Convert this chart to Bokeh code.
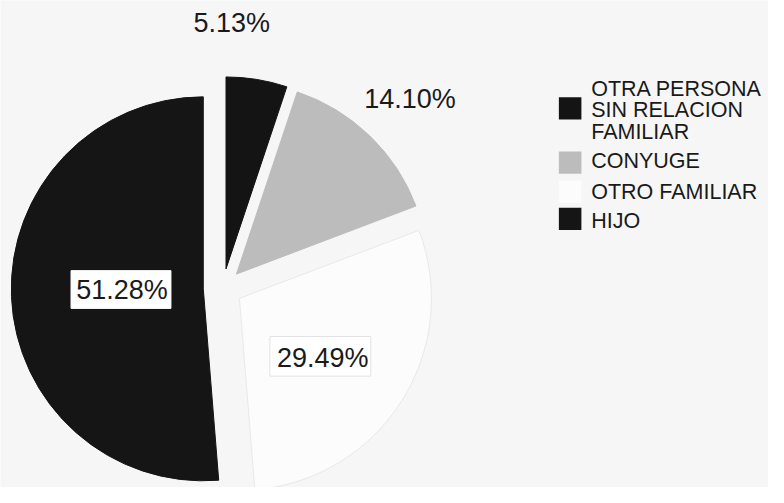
import numpy as np
from bokeh.plotting import figure
from bokeh.models import Range1d, ColumnDataSource
from bokeh.embed import file_html
from bokeh.resources import INLINE
from bokeh.core.properties import value

# ---- data ----
categories = ["OTRA PERSONA SIN RELACION FAMILIAR", "CONYUGE", "OTRO FAMILIAR", "HIJO"]
legend_lines = [["OTRA PERSONA", "SIN RELACION", "FAMILIAR"], ["CONYUGE"], ["OTRO FAMILIAR"], ["HIJO"]]
percents = [5.13, 14.10, 29.49, 51.28]

# ---- style / layout ----
colors = ["#141414", "#bcbcbc", "#fcfcfc", "#151515"]
line_colors = ["#141414", "#bcbcbc", "#e8e8e8", "#151515"]
BG = "#f6f6f6"
FONT = value("Liberation Sans")
W, H = 768, 487
R = 196
EXPLODE = 20
BASE = (227, 297)  # centre of pie in reference pixel coords


def Y(sy):
    return 503 - sy


p = figure(width=W, height=H, x_range=Range1d(0, 784), y_range=Range1d(0, 503),
           output_backend="svg", toolbar_location=None, x_axis_type=None, y_axis_type=None,
           min_border=0, background_fill_color=BG, border_fill_color=BG, outline_line_color=None)
p.grid.visible = False

vals = np.array(percents)
frac = vals / vals.sum()
cum = np.concatenate([[0], np.cumsum(frac)])
th0 = 2 * np.pi * cum[:-1]
th1 = 2 * np.pi * cum[1:]
mid = (th0 + th1) / 2
cx = BASE[0] + EXPLODE * np.sin(mid)
cy = Y(BASE[1]) + EXPLODE * np.cos(mid)

src = ColumnDataSource(dict(x=cx, y=cy, s=np.pi / 2 - th0, e=np.pi / 2 - th1,
                            fc=colors, lc=line_colors))
p.wedge(x="x", y="y", radius=R, start_angle="s", end_angle="e", direction="clock",
        fill_color="fc", line_color="lc", line_width=1, source=src)

# percentage labels
labels = ["%.2f%%" % v for v in percents]
label_pos = [(236, 23), (418, 102), (329, 369), (124, 299.5)]
box = [None, None, (275, 347, 378, 388), (72, 279, 174, 318)]
box_line = [None, None, "#e2e2e2", "#ffffff"]
for lab, (lx, ly), b, bl in zip(labels, label_pos, box, box_line):
    if b is not None:
        x0, y0, x1, y1 = b
        p.quad(left=[x0], right=[x1], top=[Y(y0)], bottom=[Y(y1)],
               fill_color="#ffffff", line_color=bl, line_width=1)
    p.text(x=[lx], y=[Y(ly)], text=[lab], text_font=FONT, text_font_size="27px",
           text_align="center", text_baseline="middle", text_color="#1a1a1a")

# legend
sq_centres = [111.5, 167.5, 197.5, 225.5]
text_mid = [[91.5, 113.5, 135.5], [165.5], [197.5], [227.5]]
for i, lines in enumerate(legend_lines):
    sc = sq_centres[i]
    p.quad(left=[570], right=[593], top=[Y(sc - 11.5)], bottom=[Y(sc + 11.5)],
           fill_color=colors[i], line_color=None)
    for t, m in zip(lines, text_mid[i]):
        p.text(x=[603], y=[Y(m)], text=[t], text_font=FONT, text_font_size="21.5px",
               text_align="left", text_baseline="middle", text_color="#1a1a1a")

open("out.html", "w").write(file_html(p, INLINE))
